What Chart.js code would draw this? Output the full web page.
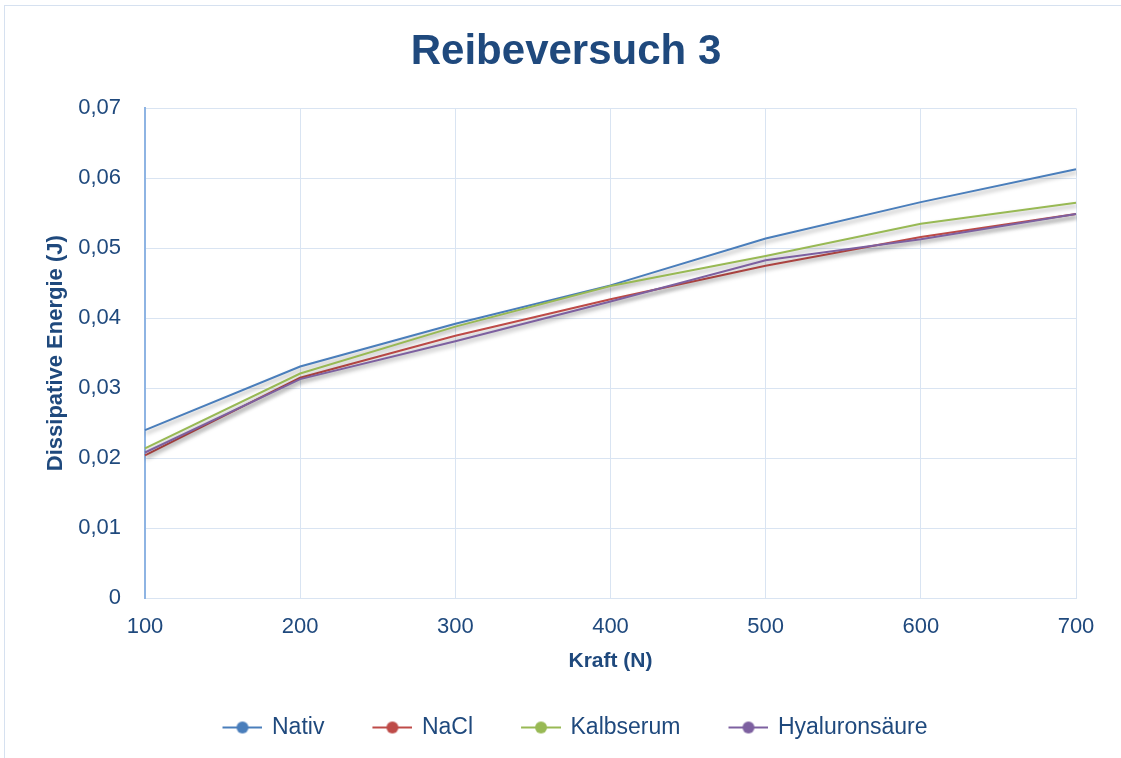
<!DOCTYPE html>
<html>
<head>
<meta charset="utf-8">
<script src="https://cdn.jsdelivr.net/npm/chart.js@4.4.0/dist/chart.umd.min.js"></script>
<style>
  html, body { margin: 0; padding: 0; background: #fff; overflow: hidden; }
  #rahmen { position: absolute; left: 4px; top: 5px; width: 1300px; height: 900px; border: 1px solid #d6e1f0; }
  #grafico__container { position: absolute; left: 0; top: 0; width: 1121px; height: 758px; }
</style>
</head>
<body>
<div id="rahmen"></div>
<div id="grafico__container"><canvas id="grafico" width="1121" height="758"></canvas></div>
<script>
// Daten
const kraft = ['100', '200', '300', '400', '500', '600', '700']
const nativ = [0.0240, 0.0331, 0.0392, 0.0447, 0.0514, 0.0566, 0.0613]
const nacl = [0.0204, 0.0315, 0.0375, 0.0427, 0.0475, 0.0516, 0.0549]
const kalbserum = [0.0214, 0.0321, 0.0388, 0.0446, 0.0489, 0.0535, 0.0565]
const hyaluron = [0.0208, 0.0313, 0.0367, 0.0424, 0.0483, 0.0513, 0.0549]
const serien = ['Nativ', 'NaCl', 'Kalbserum', 'Hyaluronsäure']
const farben = ['#4a7ebb', '#be4b48', '#98b954', '#7d60a0']

const textFarbe = '#1f497d'
const gitterFarbe = '#d9e4f2'
const schrift = "'Liberation Sans', Arial, sans-serif"

// Legenden-Symbol: Linie mit Punkt
function legendenSymbol(farbe) {
    const c = document.createElement('canvas')
    c.width = 80
    c.height = 16
    const ctx = c.getContext('2d')
    ctx.strokeStyle = farbe
    ctx.lineWidth = 2
    ctx.beginPath()
    ctx.moveTo(40, 8)
    ctx.lineTo(80, 8)
    ctx.stroke()
    ctx.fillStyle = farbe
    ctx.beginPath()
    ctx.arc(60, 8, 6, 0, Math.PI * 2)
    ctx.fill()
    return c
}

const schatten = {
    id: 'schatten',
    beforeDatasetsDraw(chart) {
        const ctx = chart.ctx
        ctx.save()
        ctx.shadowColor = 'rgba(0,0,0,0.35)'
        ctx.shadowBlur = 4
        ctx.shadowOffsetX = 1
        ctx.shadowOffsetY = 3
    },
    afterDatasetsDraw(chart) {
        chart.ctx.restore()
    }
}

// Titel und Legende etwas nach rechts
const verschieben = {
    id: 'verschieben',
    afterLayout(chart) {
        chart.legend.left += 18
        chart.legend.right += 18
        chart.titleBlock.left += 28
        chart.titleBlock.right += 28
    }
}

const werte = [nativ, nacl, kalbserum, hyaluron]
const datasets = serien.map((name, i) => ({
    label: name,
    data: werte[i],
    borderColor: farben[i],
    backgroundColor: farben[i],
    borderWidth: 2,
    pointRadius: 0,
    tension: 0,
    order: 4 - i
}))

const contexto = document.getElementById('grafico').getContext('2d')
new Chart(contexto, {
    type: 'line',
    data: { labels: kraft, datasets: datasets },
    plugins: [schatten, verschieben],
    options: {
        responsive: false,
        animation: false,
        maintainAspectRatio: false,
        layout: { autoPadding: false, padding: { left: 0, right: 45, top: 0, bottom: 9 } },
        plugins: {
            title: {
                display: true,
                text: 'Reibeversuch 3',
                color: textFarbe,
                font: { family: schrift, size: 42, weight: 'bold' },
                padding: { top: 27, bottom: 31 }
            },
            legend: {
                display: true,
                position: 'bottom',
                labels: {
                    color: textFarbe,
                    font: { family: schrift, size: 23 },
                    usePointStyle: true,
                    pointStyleWidth: 76,
                    boxHeight: 16,
                    padding: 10,
                    generateLabels(chart) {
                        return chart.data.datasets.map((ds, i) => ({
                            text: ds.label,
                            pointStyle: legendenSymbol(farben[i]),
                            fontColor: textFarbe,
                            lineWidth: 0,
                            datasetIndex: i
                        }))
                    }
                }
            },
            tooltip: { enabled: false }
        },
        scales: {
            x: {
                offset: false,
                grid: {
                    color: (c) => c.index === 0 ? 'rgba(0,0,0,0)' : gitterFarbe,
                    drawTicks: false
                },
                border: { color: gitterFarbe },
                ticks: {
                    color: textFarbe,
                    font: { family: schrift, size: 22 },
                    padding: 16,
                    maxRotation: 0
                },
                title: {
                    display: true,
                    text: 'Kraft (N)',
                    color: textFarbe,
                    font: { family: schrift, size: 21, weight: 'bold' },
                    padding: { top: 0, bottom: 32 }
                },
                afterFit(scale) { scale.height = 108 }
            },
            y: {
                min: 0,
                max: 0.07,
                grid: { color: gitterFarbe, drawTicks: false },
                border: { color: '#8eb4e3', width: 2 },
                ticks: {
                    stepSize: 0.01,
                    color: textFarbe,
                    font: { family: schrift, size: 22 },
                    padding: 24,
                    callback: (v) => v === 0 ? '0' : v.toFixed(2).replace('.', ',')
                },
                title: {
                    display: true,
                    text: 'Dissipative Energie (J)',
                    color: textFarbe,
                    font: { family: schrift, size: 22, weight: 'bold' },
                    padding: { top: 43, bottom: 0 }
                },
                afterFit(scale) { scale.width = 145 }
            }
        }
    }
})
</script>
</body>
</html>
